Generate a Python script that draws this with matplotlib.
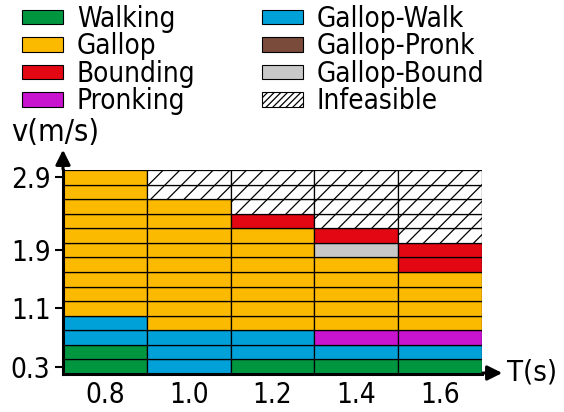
import matplotlib.pyplot as plt
from matplotlib.patches import Patch

# gait map: rows from v=0.3 upward, one list per period T
periods = ['0.8', '1.0', '1.2', '1.4', '1.6']
speeds = [0.3, 0.5, 0.7, 0.9, 1.1, 1.3, 1.5, 1.7, 1.9, 2.1, 2.3, 2.5, 2.7, 2.9]
speed_ticks = [0.3, 1.1, 1.9, 2.9]

gait_T08 = ['Walking'] * 2 + ['Gallop-Walk'] * 2 + ['Gallop'] * 10
gait_T10 = ['Gallop-Walk'] * 3 + ['Gallop'] * 9 + ['Infeasible'] * 2
gait_T12 = ['Walking'] + ['Gallop-Walk'] * 2 + ['Gallop'] * 7 + ['Bounding'] + ['Infeasible'] * 3
gait_T14 = (['Walking', 'Gallop-Walk', 'Pronking'] + ['Gallop'] * 5
            + ['Gallop-Bound', 'Bounding'] + ['Infeasible'] * 4)
gait_T16 = (['Walking', 'Gallop-Walk', 'Pronking'] + ['Gallop'] * 4
            + ['Bounding'] * 2 + ['Infeasible'] * 5)
gait_map = [gait_T08, gait_T10, gait_T12, gait_T14, gait_T16]

colors = {
    'Walking': '#009640',
    'Gallop': '#fbb900',
    'Bounding': '#e30613',
    'Pronking': '#c814cf',
    'Gallop-Walk': '#00a0d8',
    'Gallop-Pronk': '#7a4a3a',
    'Gallop-Bound': '#c8c8c8',
    'Infeasible': 'white',
}
legend_left = ['Walking', 'Gallop', 'Bounding', 'Pronking']
legend_right = ['Gallop-Walk', 'Gallop-Pronk', 'Gallop-Bound', 'Infeasible']

plt.rcParams['font.family'] = ['DejaVu Sans']
plt.rcParams['font.stretch'] = 'condensed'
plt.rcParams['hatch.linewidth'] = 0.9

fig = plt.figure(figsize=(5.64, 4.12), dpi=100)
ax = fig.add_axes([63 / 564, 1 - 374 / 412, (482 - 63) / 564, (374 - 170) / 412])

step = 0.2
for i, col in enumerate(gait_map):
    for v, g in zip(speeds, col):
        ax.bar(i, step, bottom=v - step / 2, width=1.0,
               color=colors[g], edgecolor='black', linewidth=0.9,
               hatch='//' if g == 'Infeasible' else None)

ax.set_xlim(-0.5, len(periods) - 0.5)
ax.set_ylim(speeds[0] - step / 2, speeds[-1] + step / 2)
ax.set_xticks(range(len(periods)))
ax.set_xticklabels(periods, fontsize=20)
ax.set_yticks(speed_ticks)
ax.set_yticklabels([str(t) for t in speed_ticks], fontsize=20)
ax.tick_params(axis='x', length=0, pad=5)
ax.tick_params(axis='y', length=6, width=1.5, pad=3)

for s in ['top', 'right']:
    ax.spines[s].set_visible(False)
for s in ['left', 'bottom']:
    ax.spines[s].set_linewidth(2.2)

# axis arrows
ax.annotate('', xy=(505 / 564, 1 - 373 / 412), xytext=(480 / 564, 1 - 373 / 412),
            xycoords='figure fraction',
            arrowprops=dict(arrowstyle='-|>', color='black', lw=2.2, mutation_scale=22))
ax.annotate('', xy=(63 / 564, 1 - 147 / 412), xytext=(63 / 564, 1 - 172 / 412),
            xycoords='figure fraction',
            arrowprops=dict(arrowstyle='-|>', color='black', lw=2.2, mutation_scale=22))
fig.text(507 / 564, 1 - 373 / 412, 'T(s)', fontsize=21, va='center', ha='left')
fig.text(11 / 564, 1 - 132 / 412, 'v(m/s)', fontsize=22, va='center', ha='left')


def make_handles(names):
    return [Patch(facecolor=colors[g], edgecolor='black', linewidth=0.8,
                  hatch='/////' if g == 'Infeasible' else None, label=g)
            for g in names]


leg_kw = dict(loc='upper left', frameon=False, fontsize=20, borderpad=0, borderaxespad=0,
              handlelength=1.47, handleheight=0.43, handletextpad=0.5, labelspacing=-0.02)
leg1 = fig.legend(handles=make_handles(legend_left), bbox_to_anchor=(22 / 564, 1 - 5 / 412), **leg_kw)
fig.legend(handles=make_handles(legend_right), bbox_to_anchor=(262 / 564, 1 - 5 / 412), **leg_kw)

fig.savefig('out.png', dpi=100)
